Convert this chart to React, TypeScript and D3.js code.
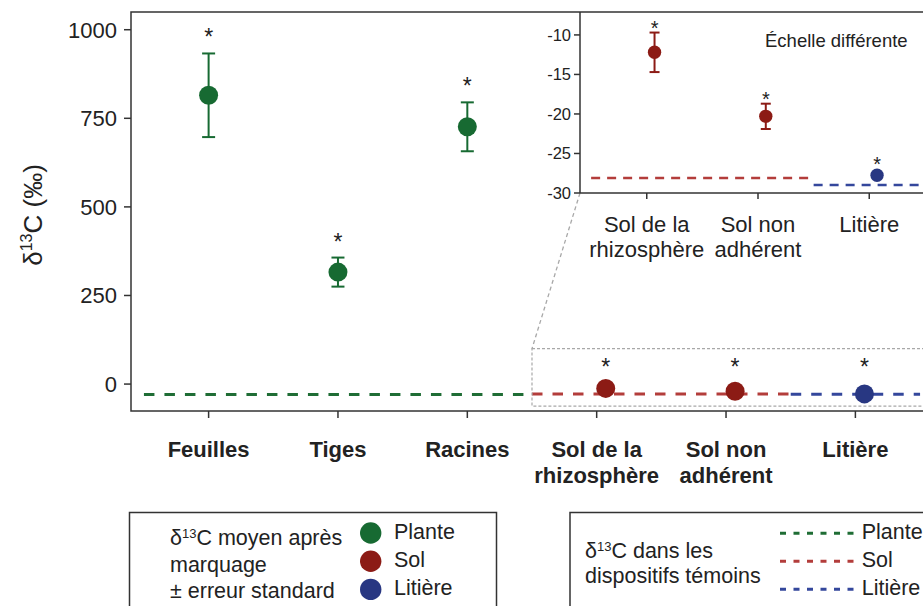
import React from 'react';
import * as d3 from 'd3';

// ---------- data ----------
const categories = ['Feuilles', 'Tiges', 'Racines', 'Sol de la rhizosphère', 'Sol non adhérent', 'Litière'];
const categoryLines = [['Feuilles'], ['Tiges'], ['Racines'], ['Sol de la', 'rhizosphère'], ['Sol non', 'adhérent'], ['Litière']];
const groups = ['Plante', 'Plante', 'Plante', 'Sol', 'Sol', 'Litière'];
const means = [815, 316, 726, -12.2, -20.3, -27.75];
const ses = [118, 41, 69, 2.5, 1.6, 0.3];
const significant = [true, true, true, true, true, true];
const groupNames = ['Plante', 'Sol', 'Litière'];
const controlValues = [-29.1, -28.1, -29.0];
const controlSpans = [['Feuilles', 'Racines'], ['Sol de la rhizosphère', 'Sol non adhérent'], ['Litière', 'Litière']];
const mainTicks = [0, 250, 500, 750, 1000];
const insetTicks = [-30, -25, -20, -15, -10];
const insetIndices = [3, 4, 5];
const zoomRange = [-62, 100];

// ---------- styles ----------
const W = 923, H = 606;
const FONT = 'Liberation Sans, Arial, Helvetica, sans-serif';
const dotColor: Record<string, string> = { Plante: '#176a32', Sol: '#8c1b15', 'Litière': '#283782' };
const dashColor: Record<string, string> = { Plante: '#1f6d35', Sol: '#b33d3b', 'Litière': '#34479c' };
const dodgeFrac = [0, 0, 0, 0.07, 0.07, 0.07];
const axisColor = '#333';
const textColor = '#222';

export default function App() {
  // main panel
  const mL = 131, mT = 12, mR = 933, mB = 411;
  const x = d3.scalePoint<string>().domain(categories).range([mL, mR]).padding(0.6);
  const y = d3.scaleLinear().domain([-76, 1050]).range([mB, mT]);
  const step = x.step();

  // inset
  const iL = 580, iT = 12, iR = 936, iB = 193;
  const insetCats = insetIndices.map(i => categories[i]);
  const xi = d3.scalePoint<string>().domain(insetCats).range([iL, iR]).padding(0.6);
  const yi = d3.scaleLinear().domain([-30, -7.1]).range([iB, iT]);
  const stepI = xi.step();

  const boxLeft = (x(categories[3]) as number) - step / 2;
  const boxTop = y(zoomRange[1]);
  const boxBottom = y(zoomRange[0]);

  return (
    <svg width={W} height={H} style={{ position: 'absolute', left: 0, top: 0, background: '#fff' }} fontFamily={FONT}>
      <rect x={0} y={0} width={W} height={H} fill="#fff" />

      {/* y axis label */}
      <text transform="translate(42,215) rotate(-90)" textAnchor="middle" fontSize={26} fill={textColor}>
        δ<tspan fontSize={16} dy={-10}>13</tspan><tspan dy={10}>C (‰)</tspan>
      </text>

      {/* main y ticks */}
      {mainTicks.map(t => (
        <g key={'yt' + t}>
          <line x1={mL - 7} x2={mL} y1={y(t)} y2={y(t)} stroke={axisColor} strokeWidth={1.5} />
          <text x={mL - 14} y={y(t) + 8} textAnchor="end" fontSize={22} fill={textColor}>{t}</text>
        </g>
      ))}

      {/* main x ticks and labels */}
      {categories.map((c, i) => (
        <g key={'xt' + c}>
          <line x1={x(c)} x2={x(c)} y1={mB} y2={mB + 7} stroke={axisColor} strokeWidth={1.5} />
          {categoryLines[i].map((ln, j) => (
            <text key={j} x={x(c)} y={457 + j * 26} textAnchor="middle" fontSize={22} fontWeight="bold" fill={textColor}>{ln}</text>
          ))}
        </g>
      ))}

      {/* control dashed lines (main) */}
      {groupNames.map((g, k) => (
        <line key={'cl' + g}
          x1={(x(controlSpans[k][0]) as number) - step / 2}
          x2={(x(controlSpans[k][1]) as number) + step / 2}
          y1={y(controlValues[k])} y2={y(controlValues[k])}
          stroke={dashColor[g]} strokeWidth={3} strokeDasharray="10.5 10" />
      ))}

      {/* zoom box */}
      <rect x={boxLeft} y={boxTop} width={mR - boxLeft + 20} height={boxBottom - boxTop}
        fill="none" stroke="#a8a8a8" strokeWidth={1.2} strokeDasharray="3 2" />

      {/* main points */}
      {categories.map((c, i) => {
        const cx = (x(c) as number) + dodgeFrac[i] * step;
        const col = dotColor[groups[i]];
        const yHi = y(means[i] + ses[i]);
        const yLo = y(means[i] - ses[i]);
        const starY = Math.min(yHi - 21, y(0) - 22);
        return (
          <g key={'pt' + c}>
            <line x1={cx} x2={cx} y1={yHi} y2={yLo} stroke={col} strokeWidth={2} />
            <line x1={cx - 6.5} x2={cx + 6.5} y1={yHi} y2={yHi} stroke={col} strokeWidth={2} />
            <line x1={cx - 6.5} x2={cx + 6.5} y1={yLo} y2={yLo} stroke={col} strokeWidth={2} />
            <circle cx={cx} cy={y(means[i])} r={9.5} fill={col} />
            {significant[i] && <text x={cx} y={starY + 13} textAnchor="middle" fontSize={23} fill={textColor}>*</text>}
          </g>
        );
      })}

      {/* connector */}
      <line x1={iL} y1={iB} x2={boxLeft} y2={boxTop} stroke="#a8a8a8" strokeWidth={1.3} strokeDasharray="4 3" />

      {/* inset */}
      <rect x={iL} y={iT} width={iR - iL} height={iB - iT} fill="#fff" />
      {insetTicks.map(t => (
        <g key={'it' + t}>
          <line x1={iL - 6} x2={iL} y1={yi(t)} y2={yi(t)} stroke={axisColor} strokeWidth={1.5} />
          <text x={iL - 9} y={yi(t) + 6} textAnchor="end" fontSize={16.5} fill={textColor}>{t}</text>
        </g>
      ))}
      {insetIndices.map(i => (
        <g key={'ix' + i}>
          <line x1={xi(categories[i])} x2={xi(categories[i])} y1={iB} y2={iB + 6} stroke={axisColor} strokeWidth={1.5} />
          {categoryLines[i].map((ln, j) => (
            <text key={j} x={xi(categories[i])} y={232 + j * 25} textAnchor="middle" fontSize={22} fill={textColor}>{ln}</text>
          ))}
        </g>
      ))}
      {groupNames.slice(1).map((g, kk) => {
        const k = kk + 1;
        return (
          <line key={'icl' + g}
            x1={(xi(controlSpans[k][0]) as number) - stepI / 2}
            x2={(xi(controlSpans[k][1]) as number) + stepI / 2}
            y1={yi(controlValues[k])} y2={yi(controlValues[k])}
            stroke={dashColor[g]} strokeWidth={2.5} strokeDasharray="9 7" />
        );
      })}
      {insetIndices.map(i => {
        const cx = (xi(categories[i]) as number) + dodgeFrac[i] * stepI;
        const col = dotColor[groups[i]];
        const yHi = yi(means[i] + ses[i]);
        const yLo = yi(means[i] - ses[i]);
        return (
          <g key={'ip' + i}>
            <line x1={cx} x2={cx} y1={yHi} y2={yLo} stroke={col} strokeWidth={2} />
            <line x1={cx - 5} x2={cx + 5} y1={yHi} y2={yHi} stroke={col} strokeWidth={2} />
            <line x1={cx - 5} x2={cx + 5} y1={yLo} y2={yLo} stroke={col} strokeWidth={2} />
            <circle cx={cx} cy={yi(means[i])} r={6.7} fill={col} />
            {significant[i] && <text x={cx} y={Math.min(yHi, yi(means[i]) - 6.7) - 9 + 11} textAnchor="middle" fontSize={20} fill={textColor}>*</text>}
          </g>
        );
      })}
      <text x={765} y={47} fontSize={18.5} fill={textColor}>Échelle différente</text>
      <line x1={iL} x2={iL} y1={iT} y2={iB} stroke={axisColor} strokeWidth={1.5} />
      <line x1={iL} x2={iR + 10} y1={iB} y2={iB} stroke={axisColor} strokeWidth={1.5} />

      {/* main panel border */}
      <rect x={mL} y={mT} width={mR - mL + 20} height={mB - mT} fill="none" stroke={axisColor} strokeWidth={1.5} />

      {/* legend 1 */}
      <rect x={129.5} y={512.5} width={367} height={120} fill="#fff" stroke={axisColor} strokeWidth={1.5} />
      <text x={170} y={545} fontSize={21.5} fill={textColor}>δ<tspan fontSize={13} dy={-7}>13</tspan><tspan dy={7}>C moyen après</tspan></text>
      <text x={170} y={571.5} fontSize={21.5} fill={textColor}>marquage</text>
      <text x={170} y={598} fontSize={21.5} fill={textColor}>± erreur standard</text>
      {groupNames.map((g, k) => (
        <g key={'lg1' + g}>
          <circle cx={370.7} cy={533 + k * 28.2} r={10.7} fill={dotColor[g]} />
          <text x={394} y={538.5 + k * 28.2} fontSize={21.5} fill={textColor}>{g}</text>
        </g>
      ))}

      {/* legend 2 */}
      <rect x={570} y={512.5} width={400} height={120} fill="#fff" stroke={axisColor} strokeWidth={1.5} />
      <text x={585} y={558.3} fontSize={21.5} fill={textColor}>δ<tspan fontSize={13} dy={-7}>13</tspan><tspan dy={7}>C dans les</tspan></text>
      <text x={585} y={583.3} fontSize={21.5} fill={textColor}>dispositifs témoins</text>
      {groupNames.map((g, k) => (
        <g key={'lg2' + g}>
          <line x1={780} x2={856} y1={533.3 + k * 28} y2={533.3 + k * 28} stroke={dashColor[g]} strokeWidth={3} strokeDasharray="6 7.5" />
          <text x={861.7} y={538.5 + k * 28.2} fontSize={21.5} fill={textColor}>{g}</text>
        </g>
      ))}
    </svg>
  );
}
